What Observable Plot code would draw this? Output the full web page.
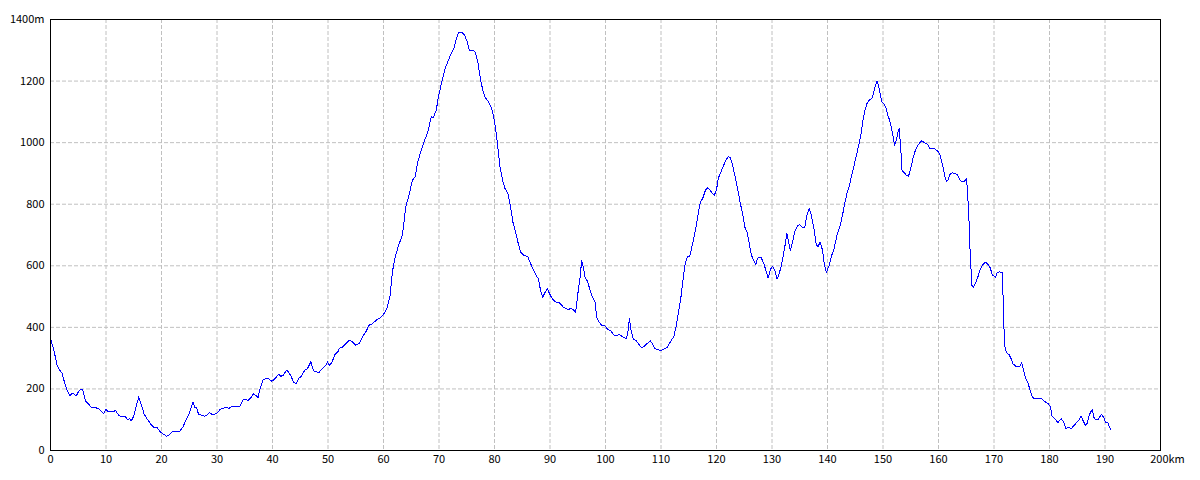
<!DOCTYPE html>
<html>
<head>
<meta charset="utf-8">
<script src="https://cdn.jsdelivr.net/npm/d3@7"></script>
<script src="https://cdn.jsdelivr.net/npm/@observablehq/plot@0.6"></script>
<style>
  html, body { margin: 0; padding: 0; background: #fff; }
  #chart { width: 1200px; height: 480px; }
</style>
</head>
<body>
<div id="chart"></div>
<script>
// Distance along route (km)
const distanceKm = [
  0, 0.6, 1.2, 1.5, 2.1, 2.5, 3.0, 3.5, 3.9, 4.2, 4.6, 5.1, 5.5, 5.8, 6.3, 6.9, 7.3, 8.1, 8.7, 9.3,
  9.6, 10.0, 10.5, 11.3, 11.7, 12.3, 12.9, 13.5, 13.9, 14.3, 14.5, 15.0, 15.4, 15.9, 16.3, 16.9, 17.5, 18.1, 18.6, 19.2,
  19.7, 20.3, 20.9, 21.3, 21.7, 22.2, 22.8, 23.3, 23.9, 24.5, 25.1, 25.7, 26.0, 26.3, 26.7, 27.3, 27.8, 28.2, 28.7, 29.3,
  30.0, 30.6, 31.2, 31.7, 32.1, 32.7, 33.6, 34.1, 34.8, 35.6, 36.2, 36.6, 37.4, 37.8, 38.3, 38.9, 39.3, 39.9, 40.5, 41.1,
  41.5, 42.0, 42.5, 42.9, 43.4, 43.8, 44.3, 44.7, 45.2, 45.8, 46.3, 46.9, 47.4, 48.0, 48.4, 49.0, 49.6, 49.9, 50.2, 50.7,
  51.2, 51.8, 52.0, 52.6, 53.2, 53.8, 54.4, 55.0, 55.6, 56.2, 56.8, 57.4, 58.0, 58.8, 59.5, 60.1, 60.7, 61.2, 61.5, 61.8,
  62.2, 62.8, 63.3, 63.6, 64.0, 64.6, 65.2, 65.7, 66.1, 66.7, 67.3, 68.0, 68.6, 69.0, 69.5, 69.9, 70.5, 71.1, 71.7, 72.2,
  72.7, 73.1, 73.5, 74.1, 74.6, 75.1, 75.5, 76.1, 76.5, 77.0, 77.5, 77.9, 78.3, 78.8, 79.4, 79.8, 80.2, 80.6, 81.0, 81.5,
  81.9, 82.4, 82.9, 83.3, 83.7, 84.2, 84.7, 85.3, 86.0, 86.5, 86.9, 87.5, 87.9, 88.3, 88.7, 89.0, 89.5, 89.9, 90.4, 91.0,
  91.7, 92.5, 93.3, 93.7, 94.2, 94.6, 95.1, 95.4, 95.7, 96.0, 96.3, 96.8, 97.2, 97.6, 98.1, 98.4, 98.8, 99.3, 100.0, 100.4,
  100.9, 101.5, 101.9, 102.5, 103.1, 103.7, 104.0, 104.3, 104.6, 105.0, 105.5, 106.0, 106.5, 107.0, 107.6, 108.1, 108.5, 108.9, 109.5, 110.1,
  110.6, 111.1, 111.5, 112.0, 112.3, 112.7, 113.1, 113.6, 114.1, 114.4, 114.8, 115.2, 115.7, 116.2, 116.6, 117.1, 117.5, 117.9, 118.3, 118.7,
  119.2, 119.6, 120.0, 120.3, 120.8, 121.3, 121.7, 122.1, 122.5, 122.9, 123.3, 123.8, 124.3, 124.7, 125.1, 125.5, 125.9, 126.3, 126.7, 127.1,
  127.4, 128.0, 128.5, 128.9, 129.3, 129.7, 130.1, 130.5, 130.9, 131.3, 131.7, 132.2, 132.7, 133.0, 133.3, 133.7, 134.1, 134.6, 135.0, 135.5,
  135.9, 136.3, 136.7, 137.1, 137.6, 138.0, 138.3, 138.7, 139.1, 139.4, 139.8, 140.3, 140.7, 141.2, 141.7, 142.3, 142.7, 143.1, 143.5, 143.9,
  144.3, 144.8, 145.3, 145.7, 146.1, 146.4, 146.8, 147.1, 147.5, 148.0, 148.3, 148.6, 148.95, 149.2, 149.5, 149.8, 150.1, 150.5, 150.9, 151.2,
  151.6, 152.1, 152.4, 152.7, 152.9, 153.0, 153.2, 153.4, 153.8, 154.2, 154.6, 155.0, 155.4, 155.8, 156.2, 156.6, 157.0, 157.5, 158.0, 158.4,
  158.8, 159.3, 159.8, 160.2, 160.5, 160.8, 161.1, 161.4, 161.7, 162.1, 162.5, 162.9, 163.4, 163.8, 164.2, 164.6, 165.0, 165.2, 165.4, 165.6,
  165.7, 165.9, 166.0, 166.3, 166.7, 167.1, 167.5, 168.0, 168.5, 168.9, 169.3, 169.7, 170.0, 170.3, 170.6, 171.0, 171.5, 171.6, 171.8, 172.0,
  172.4, 172.7, 173.1, 173.4, 173.9, 174.3, 174.7, 175.0, 175.4, 175.7, 176.1, 176.5, 176.9, 177.3, 177.9, 178.3, 178.8, 179.3, 179.8, 180.2,
  180.4, 180.8, 181.2, 181.5, 181.8, 182.1, 182.5, 183.0, 183.4, 183.9, 184.4, 184.8, 185.3, 185.7, 186.1, 186.5, 186.8, 187.1, 187.4, 187.7,
  188.0, 188.3, 188.7, 189.0, 189.4, 189.8, 190.1, 190.5, 190.8, 191.1
];

// Elevation (m)
const elevationM = [
  364, 326, 277, 266, 250, 223, 196, 179, 185, 185, 176, 193, 199, 196, 161, 150, 141, 139, 136, 125,
  120, 133, 125, 126, 130, 114, 109, 109, 100, 103, 95, 111, 141, 174, 152, 117, 100, 85, 76, 74,
  62, 54, 46, 49, 57, 63, 63, 62, 78, 102, 125, 158, 139, 139, 117, 114, 111, 116, 123, 115,
  122, 134, 138, 141, 136, 143, 143, 143, 167, 163, 174, 185, 172, 204, 230, 234, 233, 225, 234, 248,
  241, 245, 261, 255, 239, 221, 217, 234, 241, 261, 266, 288, 259, 255, 254, 266, 277, 288, 277, 286,
  310, 321, 331, 336, 347, 358, 353, 342, 347, 369, 385, 407, 412, 425, 432, 445, 466, 504, 564, 602,
  634, 672, 692, 726, 791, 829, 878, 889, 932, 970, 1003, 1035, 1084, 1082, 1105, 1149, 1197, 1241, 1268, 1290,
  1306, 1335, 1358, 1358, 1349, 1327, 1298, 1300, 1295, 1262, 1203, 1170, 1147, 1136, 1116, 1089, 1046, 986, 921, 873,
  851, 835, 792, 743, 716, 678, 645, 634, 629, 607, 591, 569, 558, 520, 497, 510, 526, 510, 493, 483,
  480, 464, 458, 461, 458, 448, 521, 558, 616, 596, 564, 548, 521, 499, 483, 434, 418, 407, 404, 392,
  390, 376, 372, 377, 369, 364, 379, 428, 390, 361, 358, 345, 334, 339, 349, 356, 345, 331, 327, 325,
  331, 334, 347, 363, 369, 401, 444, 499, 575, 612, 629, 632, 672, 715, 759, 808, 818, 840, 854, 848,
  837, 829, 846, 883, 905, 927, 943, 954, 952, 927, 894, 851, 802, 770, 726, 710, 672, 634, 618, 605,
  625, 628, 609, 585, 560, 588, 599, 585, 556, 575, 602, 650, 705, 677, 650, 677, 710, 729, 734, 723,
  726, 764, 786, 764, 715, 667, 663, 677, 650, 607, 577, 602, 631, 656, 699, 732, 764, 802, 835, 856,
  889, 927, 965, 998, 1035, 1073, 1108, 1127, 1138, 1143, 1162, 1184, 1200, 1184, 1157, 1133, 1127, 1114, 1087, 1073,
  1041, 992, 1008, 1035, 1046, 1024, 984, 911, 903, 894, 891, 916, 949, 973, 989, 999, 1006, 999, 995, 981,
  981, 980, 973, 965, 943, 921, 894, 875, 878, 898, 902, 900, 896, 881, 872, 873, 883, 851, 780, 710,
  640, 575, 537, 531, 544, 564, 588, 604, 612, 605, 594, 571, 566, 563, 579, 580, 578, 520, 396, 331,
  314, 312, 298, 282, 274, 273, 274, 285, 255, 233, 222, 195, 173, 168, 168, 171, 165, 157, 152, 141,
  114, 106, 98, 90, 98, 103, 95, 70, 76, 70, 81, 89, 98, 111, 95, 81, 89, 111, 125, 132,
  108, 100, 100, 108, 117, 106, 90, 90, 76, 67
];

// Axis ticks
const xTicks = [0, 10, 20, 30, 40, 50, 60, 70, 80, 90, 100, 110, 120, 130, 140, 150, 160, 170, 180, 190, 200];
const yTicks = [0, 200, 400, 600, 800, 1000, 1200, 1400];
const xUnit = "km";
const yUnit = "m";

const profile = distanceKm.map((d, i) => ({km: d, elev: elevationM[i]}));
const xLast = xTicks[xTicks.length - 1];
const yLast = yTicks[yTicks.length - 1];

const gridStyle = {stroke: "#c0c0c0", strokeOpacity: 1, strokeWidth: 1, strokeDasharray: "4,2"};

const chart = Plot.plot({
  width: 1200,
  height: 480,
  marginLeft: 50,
  marginRight: 40,
  marginTop: 19,
  marginBottom: 30,
  style: {fontFamily: "'Noto Sans CJK JP', 'Liberation Sans', sans-serif", fontSize: "11px", background: "#fff", color: "#000"},
  x: {domain: [0, xLast], axis: null},
  y: {domain: [0, yLast], axis: null},
  marks: [
    Plot.gridX(xTicks.slice(1, -1), gridStyle),
    Plot.gridY(yTicks.slice(1, -1), gridStyle),
    Plot.line(profile, {x: "km", y: "elev", stroke: "#0000ff", strokeWidth: 1, shapeRendering: "crispEdges"}),
    Plot.frame({stroke: "#000", strokeWidth: 1}),
    Plot.axisX(xTicks.slice(0, -1), {tickSize: 0, tickPadding: 5, label: null, tickFormat: d => String(d)}),
    Plot.axisX([xLast], {tickSize: 0, tickPadding: 5, label: null, dx: 7, tickFormat: d => d + xUnit}),
    Plot.axisY(yTicks, {tickSize: 0, tickPadding: 6, label: null, tickFormat: d => d === yLast ? d + yUnit : String(d)})
  ]
});
document.getElementById("chart").appendChild(chart);
</script>
</body>
</html>
